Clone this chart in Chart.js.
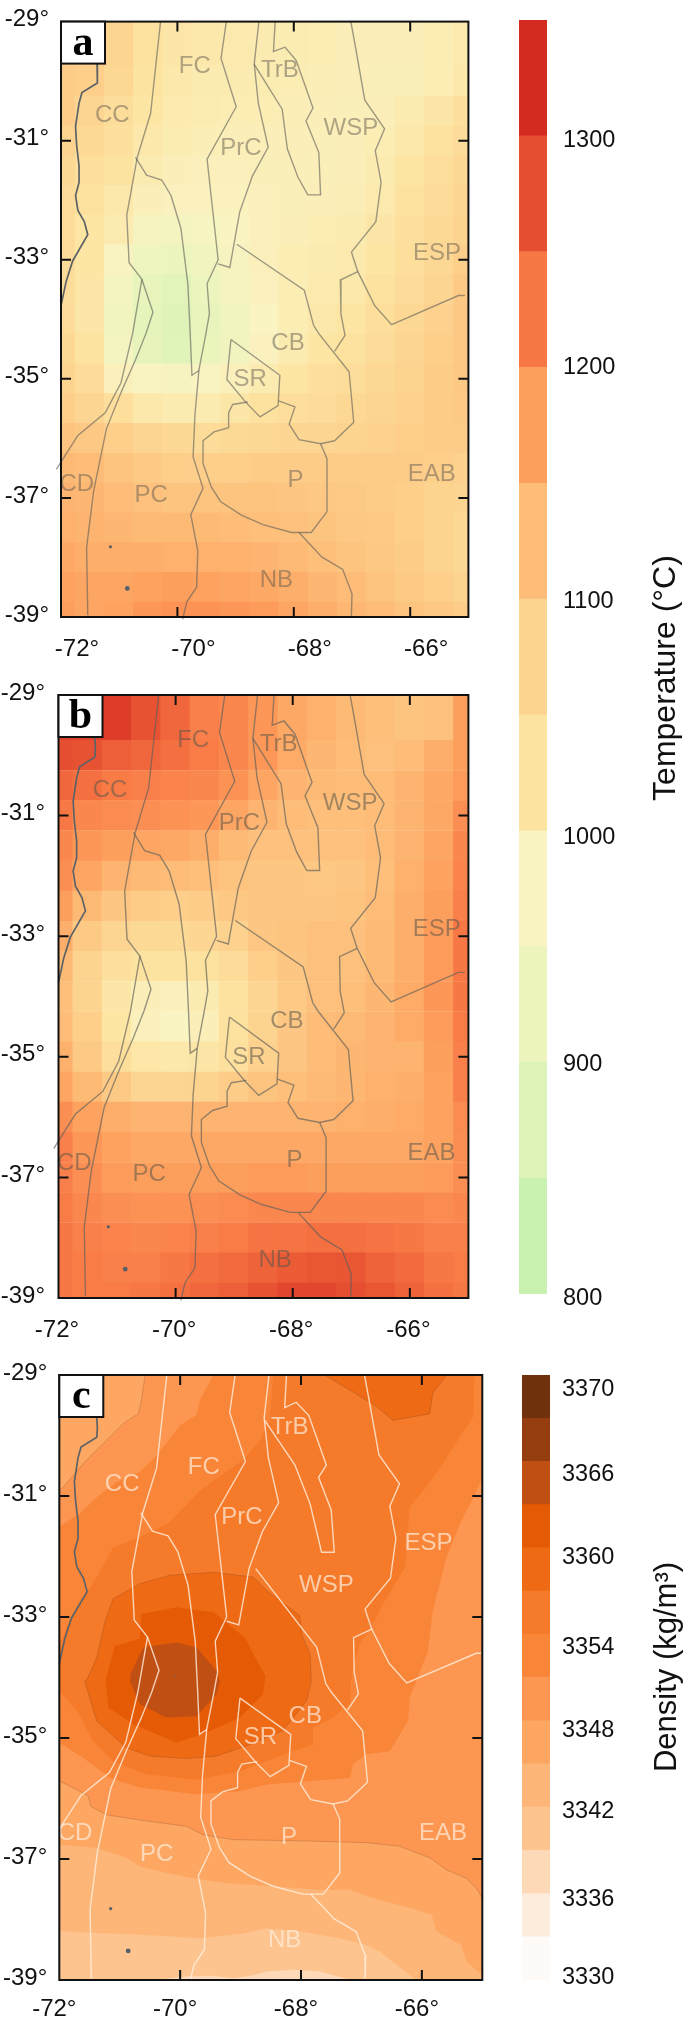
<!DOCTYPE html>
<html>
<head>
<meta charset="utf-8">
<script src="https://cdn.jsdelivr.net/npm/chart.js@4"></script>
<style>
  html, body { margin: 0; background: #fff; }
  body { position: relative; width: 685px; height: 2017px; overflow: hidden; }
  .box { position: absolute; }
</style>
</head>
<body>
<div class="box" style="left:0;top:0;width:490px;height:670px"><canvas id="mapA"></canvas></div>
<div class="box" style="left:0;top:660px;width:490px;height:680px"><canvas id="mapB"></canvas></div>
<div class="box" style="left:0;top:1340px;width:490px;height:677px"><canvas id="mapC"></canvas></div>
<div class="box" style="left:519px;top:0;width:166px;height:1320px"><canvas id="barTemp"></canvas></div>
<div class="box" style="left:522px;top:1340px;width:163px;height:677px"><canvas id="barDens"></canvas></div>
<script>
/* ── heat grids (°C), rows north to south, columns west to east ── */
const heatLons = [-72,-71.5,-71,-70.5,-70,-69.5,-69,-68.5,-68,-67.5,-67,-66.5,-66,-65.5,-65];
const heatLats = [-29,-29.5,-30,-30.5,-31,-31.5,-32,-32.5,-33,-33.5,-34,-34.5,-35,-35.5,-36,-36.5,-37,-37.5,-38,-38.5,-39];

const tempA = [
  [1085,1085,1070,1030,1015,1010,1005,1000,998,995,990,990,990,995,1005],
  [1085,1085,1070,1030,1015,1010,1005,1000,998,995,990,990,990,995,1005],
  [1090,1085,1060,1025,1010,1000,1000,998,995,992,990,988,988,995,1010],
  [1090,1070,1045,1020,1003,998,995,995,993,990,988,990,1000,1015,1035],
  [1075,1055,1035,1010,998,992,990,990,990,988,990,995,1010,1030,1050],
  [1060,1040,1025,1000,990,985,985,988,988,988,990,1000,1020,1040,1060],
  [1050,1030,1010,990,980,980,982,985,988,990,993,1005,1030,1050,1070],
  [1050,1020,1000,965,950,960,975,985,990,995,1000,1015,1035,1055,1075],
  [1050,1020,970,930,920,940,965,985,995,1000,1005,1020,1040,1060,1085],
  [1045,1015,950,905,890,920,955,980,995,1005,1010,1030,1050,1070,1095],
  [1050,1015,945,895,878,905,945,975,995,1010,1020,1040,1060,1080,1100],
  [1060,1025,950,900,880,915,945,980,1000,1020,1030,1050,1070,1085,1100],
  [1075,1050,985,970,965,970,985,1000,1020,1035,1045,1060,1075,1090,1100],
  [1085,1070,1040,1010,1000,1000,1015,1030,1040,1050,1060,1070,1080,1090,1095],
  [1110,1100,1085,1070,1060,1050,1055,1060,1065,1070,1075,1080,1085,1090,1090],
  [1130,1125,1110,1095,1085,1085,1085,1090,1090,1090,1090,1090,1090,1085,1080],
  [1140,1135,1125,1115,1110,1110,1110,1110,1105,1100,1095,1090,1085,1075,1070],
  [1145,1140,1135,1130,1130,1130,1125,1120,1115,1110,1100,1095,1085,1075,1060],
  [1160,1150,1150,1150,1145,1145,1145,1140,1130,1120,1110,1100,1090,1075,1060],
  [1170,1165,1165,1170,1175,1170,1165,1160,1150,1135,1125,1110,1095,1085,1075],
  [1175,1165,1170,1185,1190,1190,1185,1180,1165,1150,1135,1125,1110,1100,1090]
];

const tempB = [
  [1290,1290,1298,1270,1245,1215,1205,1185,1160,1145,1130,1120,1110,1115,1175],
  [1290,1290,1298,1270,1245,1215,1205,1185,1160,1145,1130,1120,1110,1115,1175],
  [1275,1270,1255,1245,1235,1220,1205,1185,1155,1135,1125,1115,1125,1150,1175],
  [1245,1235,1220,1215,1210,1205,1190,1165,1140,1130,1125,1125,1140,1160,1180],
  [1225,1205,1200,1195,1190,1185,1165,1140,1125,1120,1120,1125,1140,1160,1195],
  [1205,1185,1175,1165,1160,1150,1130,1115,1115,1115,1115,1125,1140,1165,1205],
  [1195,1165,1140,1130,1125,1120,1110,1105,1105,1100,1105,1120,1145,1170,1210],
  [1175,1130,1105,1090,1085,1090,1100,1105,1105,1105,1110,1125,1150,1175,1215],
  [1150,1095,1070,1055,1055,1065,1080,1105,1110,1115,1115,1130,1150,1180,1225],
  [1130,1075,1035,1025,1025,1030,1050,1085,1105,1115,1115,1130,1150,1180,1225],
  [1120,1075,1015,990,985,1000,1030,1065,1095,1115,1120,1135,1155,1185,1225],
  [1125,1085,1020,985,975,990,1030,1075,1105,1125,1130,1140,1155,1180,1220],
  [1145,1095,1040,1012,1010,1015,1035,1080,1105,1125,1135,1140,1140,1175,1215],
  [1165,1130,1095,1070,1070,1075,1090,1110,1120,1130,1135,1145,1150,1170,1215],
  [1195,1170,1150,1140,1140,1140,1140,1140,1140,1140,1145,1150,1155,1170,1200],
  [1215,1185,1170,1160,1160,1160,1160,1160,1160,1160,1160,1160,1160,1170,1195],
  [1215,1195,1180,1175,1175,1175,1175,1180,1180,1175,1175,1175,1175,1180,1195],
  [1220,1205,1195,1190,1190,1195,1200,1205,1205,1205,1205,1205,1205,1200,1205],
  [1225,1215,1210,1205,1210,1215,1220,1230,1230,1235,1235,1230,1225,1215,1215],
  [1225,1220,1215,1215,1225,1235,1240,1250,1260,1265,1265,1250,1240,1225,1220],
  [1225,1220,1220,1225,1235,1245,1255,1270,1285,1285,1275,1265,1250,1235,1225]
];

// colour at the middle of each colour-bar level, temperature panels blend between them
const heatStops  = [825,875,925,975,1025,1075,1125,1175,1225,1275,1325];
const heatColors = ['#c9f1b0','#def3b8','#edf5bd','#faf3c2','#fde3a0','#fdd390','#fdbd78','#fd9f5c','#f87845','#e54e30','#d52a20'];

/* ── colour bars ── */
const tempEdges  = [800,850,900,950,1000,1050,1100,1150,1200,1250,1300];
const tempStep   = 50;
const tempLabels = ['800','900','1000','1100','1200','1300'];
const tempLabelAt = [798,899,997,1099,1200,1298];

const densEdges  = [3330,3333,3336,3339,3342,3345,3348,3351,3354,3357,3360,3363,3366,3369];
const densStep   = 3;
const densColors = ['#fefaf7','#fdebdc','#fdd9b8','#fdc48f','#fdb678','#fda762','#fd9650','#f98638','#f57a2a','#ee6a15','#e55a05','#c04f14','#963d10','#70320c'];
const densLabels = ['3330','3336','3342','3348','3354','3360','3366','3370'];
const densLabelAt = [3330.2,3335.6,3341.7,3347.3,3353.1,3359.3,3365.1,3371];

/* ── density bands of panel c, [lon, lat] ── */
const band3339 = [[-72,-29],[-65,-29],[-65,-39],[-67.17,-39],[-67.69,-38.86],[-68.13,-38.83],[-68.57,-38.86],[-68.79,-38.92],[-69.12,-38.97],[-69.45,-38.93],[-69.89,-38.94],[-70.39,-39],[-72,-39]];
const band3342 = [[-72,-38.19],[-71.66,-38.21],[-71.16,-38.23],[-70.34,-38.27],[-69.67,-38.31],[-69.01,-38.24],[-68.57,-38.15],[-68.02,-38.2],[-67.36,-38.31],[-66.92,-38.42],[-66.7,-38.53],[-66.42,-38.75],[-66.09,-39],[-65,-39],[-65,-29],[-72,-29]];
const band3345 = [[-72,-36.76],[-71.38,-36.82],[-70.89,-36.98],[-70.67,-37.12],[-70.23,-37.23],[-69.78,-37.32],[-69.23,-37.4],[-68.46,-37.45],[-67.74,-37.51],[-67.19,-37.51],[-66.81,-37.65],[-66.2,-37.81],[-65.84,-37.92],[-65.76,-38.2],[-65.35,-38.42],[-65.26,-38.7],[-65,-38.92],[-65,-29],[-72,-29]];
const band3348 = [[-70.58,-29],[-70.64,-29.41],[-70.69,-29.64],[-70.94,-29.8],[-71.33,-30.19],[-71.6,-30.46],[-71.93,-30.85],[-72,-30.91],[-72,-35.71],[-71.66,-35.88],[-71.52,-35.96],[-71.48,-36.13],[-71.22,-36.27],[-70.5,-36.38],[-69.89,-36.46],[-69.62,-36.6],[-69.12,-36.68],[-68.02,-36.7],[-66.92,-36.73],[-66.37,-36.79],[-65.87,-36.98],[-65.59,-37.18],[-65.26,-37.32],[-65.1,-37.48],[-65,-37.65],[-65,-29]];
const band3351 = [[-69.45,-29],[-69.67,-29.41],[-69.73,-29.66],[-70,-29.83],[-70.39,-30.33],[-70.67,-30.6],[-71.05,-30.77],[-71.38,-31.02],[-71.66,-31.29],[-72,-31.51],[-72,-35.08],[-71.6,-35.33],[-71.16,-35.66],[-70.67,-35.82],[-69.73,-35.93],[-69.01,-35.88],[-68.57,-35.77],[-67.19,-35.66],[-67.14,-35.44],[-66.92,-35.27],[-66.53,-35.22],[-66.23,-34.72],[-66.2,-34.33],[-66.09,-34.06],[-65.9,-33.56],[-65.82,-32.9],[-65.59,-32.01],[-65.37,-31.46],[-65.15,-31.02],[-65,-30.71],[-65,-29]];
const band3354 = [[-68.46,-29],[-68.52,-29.75],[-68.68,-30.08],[-68.96,-30.41],[-69.4,-30.71],[-69.67,-30.91],[-70.17,-31.43],[-70.67,-31.68],[-71.11,-31.85],[-71.38,-32.34],[-71.77,-32.95],[-72,-33.45],[-72,-34.22],[-71.71,-34.55],[-71.44,-35.05],[-71.11,-35.38],[-70.56,-35.6],[-69.73,-35.69],[-69.01,-35.55],[-68.57,-35.38],[-68.13,-35.22],[-67.8,-35.11],[-67.8,-34.83],[-67.47,-34.66],[-67.19,-34.44],[-67.17,-34.06],[-67.14,-33.83],[-67.03,-33.45],[-66.75,-33.01],[-66.64,-32.78],[-66.28,-32.18],[-66.2,-31.18],[-65.93,-30.85],[-65.65,-30.46],[-65.37,-30.02],[-65.15,-29.69],[-65.13,-29]];
const band3357 = [[-71.54,-34.03],[-71.38,-33.67],[-71.24,-33.06],[-71.11,-32.7],[-70.67,-32.45],[-70.17,-32.31],[-69.45,-32.26],[-68.79,-32.34],[-68.57,-32.56],[-68.02,-32.98],[-67.99,-33.28],[-67.85,-33.61],[-67.83,-34.06],[-67.91,-34.39],[-68.3,-34.88],[-68.9,-35.13],[-69.4,-35.3],[-69.89,-35.34],[-70.5,-35.3],[-70.89,-35.16],[-71.38,-34.72],[-71.58,-34.06]];
const band3357ne = [[-67.61,-29],[-67.14,-29.28],[-66.75,-29.52],[-66.48,-29.75],[-65.87,-29.64],[-65.82,-29.3],[-65.59,-29]];
const band3360 = [[-71.23,-34.03],[-71.08,-33.48],[-70.67,-33.36],[-70.64,-32.95],[-70.06,-32.84],[-69.45,-32.92],[-68.93,-33.34],[-68.76,-33.67],[-68.59,-33.97],[-68.63,-34.28],[-69.01,-34.66],[-69.56,-34.91],[-70.06,-35.08],[-70.78,-34.77],[-71.19,-34.5]];
const band3363 = [[-70.82,-33.94],[-70.61,-33.5],[-70.06,-33.42],[-69.73,-33.5],[-69.4,-33.89],[-69.34,-34.06],[-69.4,-34.28],[-69.73,-34.64],[-70.23,-34.66],[-70.67,-34.44],[-70.83,-34.06]];

const bandsC     = [band3339, band3342, band3345, band3348, band3351, band3354, band3357, band3357ne, band3360, band3363];
const bandLevel  = [3339, 3342, 3345, 3348, 3351, 3354, 3357, 3357, 3360, 3363];
const bandHasEdge = [false, false, false, true, false, false, true, true, false, false];

/* ── province boundaries, [lon, lat] ── */
const coast = [[-71.38,-29.71],[-71.37,-29.87],[-71.38,-30.03],[-71.64,-30.19],[-71.69,-30.37],[-71.75,-30.76],[-71.73,-31.09],[-71.69,-31.42],[-71.69,-31.7],[-71.75,-31.92],[-71.71,-32.17],[-71.6,-32.36],[-71.54,-32.58],[-71.8,-33.02],[-71.91,-33.36],[-72,-33.77]];
const lineA = [[-70.29,-29],[-70.46,-30.54],[-70.69,-31.28],[-70.87,-32.25],[-70.83,-33.05],[-70.61,-33.33],[-70.42,-33.88],[-70.54,-34.24],[-70.72,-34.68],[-70.96,-35.21],[-71.22,-35.84],[-71.44,-36.89],[-71.56,-37.83],[-71.54,-38.97]];
const lineB = [[-70.61,-33.33],[-70.77,-34.24],[-70.97,-35.07],[-71.24,-35.57],[-71.71,-35.95],[-72.08,-36.52]];
const lineC = [[-70.72,-31.28],[-70.53,-31.58],[-70.27,-31.66],[-70.11,-31.92],[-69.94,-32.47],[-69.82,-33.41],[-69.78,-34.24],[-69.75,-34.94],[-69.63,-34.86]];
const lineD = [[-69.16,-29],[-69.25,-29.62],[-68.99,-30.43],[-69.49,-31.31],[-69.3,-33],[-69.49,-33.4],[-69.45,-33.91],[-69.51,-34.24],[-69.63,-34.85],[-69.7,-35.62],[-69.73,-36.31],[-69.56,-36.84],[-69.77,-37.28],[-69.65,-37.89],[-69.67,-38.5],[-69.84,-38.75],[-69.91,-39.04]];
const lineE = [[-68.6,-29],[-68.68,-29.71],[-68.61,-30.37],[-68.44,-31.11],[-68.71,-31.59],[-68.93,-32.2],[-69.1,-33.13],[-69.3,-33.07]];
const lineF = [[-68.32,-29],[-68.35,-29.5],[-68.15,-29.43],[-67.96,-29.65],[-67.67,-30.45],[-67.79,-30.67],[-67.57,-31.2],[-67.54,-31.91],[-67.76,-31.91],[-67.93,-31.61],[-68.11,-31.14],[-68.2,-30.47],[-68.68,-29.72]];
const lineFc = [[-68.31,-29],[-68.34,-29.54],[-68.15,-29.45],[-67.94,-29.67],[-67.65,-30.49],[-67.78,-30.69],[-67.57,-31.23],[-67.52,-31.93],[-67.73,-31.93],[-67.92,-31.13],[-68.17,-30.49],[-68.67,-29.75]];
const lineG = [[-67.02,-29],[-66.94,-29.43],[-66.78,-30.32],[-66.44,-30.8],[-66.6,-31.17],[-66.5,-31.7],[-66.59,-32.36],[-67.01,-32.87],[-66.9,-33.2],[-66.61,-33.77],[-66.32,-34.09],[-65.17,-33.6],[-65.06,-33.6]];
const lineH = [[-66.9,-33.2],[-67.2,-33.34],[-67.19,-33.91],[-67.12,-34.27],[-67.3,-34.54]];
const lineI = [[-68.98,-32.74],[-67.82,-33.51],[-67.66,-34.1],[-67.57,-34.24],[-67.05,-34.88],[-66.97,-35.73],[-67.3,-36.04],[-67.54,-36.09],[-67.91,-36.02],[-68.08,-35.76],[-67.98,-35.47],[-68.26,-35.37]];
const lineIc = [[-68.82,-32.2],[-67.81,-33.5],[-67.66,-34.1],[-67.57,-34.24],[-67.05,-34.88],[-66.97,-35.73],[-67.3,-36.04],[-67.54,-36.09],[-67.91,-36.02],[-68.08,-35.76],[-67.98,-35.47],[-68.26,-35.37]];
const lineSR = [[-69.08,-34.34],[-68.24,-34.94],[-68.27,-35.45],[-68.58,-35.64],[-68.82,-35.4],[-69.15,-35.01],[-69.08,-34.34]];
const lineP = [[-68.79,-35.39],[-69.05,-35.43],[-69.12,-35.57],[-69.12,-35.82],[-69.37,-35.89],[-69.56,-36.04],[-69.56,-36.42],[-69.42,-36.81],[-69.26,-37.06],[-68.9,-37.29],[-68.53,-37.45],[-68.04,-37.58],[-67.7,-37.58],[-67.43,-37.23],[-67.43,-36.34],[-67.54,-36.09]];
const lineNB = [[-67.91,-37.58],[-67.52,-37.99],[-67.16,-38.2],[-67,-38.61],[-67.01,-38.98]];

const linesAB = [lineA, lineB, lineC, lineD, lineE, lineF, lineG, lineH, lineI, lineSR, lineP, lineNB];
const linesC  = [lineA, lineB, lineC, lineD, lineE, lineFc, lineG, lineH, lineIc, lineSR, lineP, lineNB];
const lonShiftC = 0.07;   // boundaries sit a bit further east in the density panel

/* ── province names ── */
const names   = ['FC','CC','TrB','WSP','PrC','ESP','CB','SR','P','CD','PC','EAB','NB'];
const nameLonAB = [-69.7,-71.12,-68.24,-67.02,-68.91,-65.54,-68.1,-68.75,-67.97,-71.73,-70.45,-65.63,-68.3];
const nameLatAB = [-29.76,-30.58,-29.82,-30.8,-31.13,-32.89,-34.41,-35.01,-36.71,-36.77,-36.95,-36.6,-38.38];
const nameLonC  = [-69.61,-70.96,-68.19,-67.58,-68.98,-65.89,-67.93,-68.67,-68.2,-71.74,-70.39,-65.65,-68.27];
const nameLatC  = [-30.53,-30.81,-29.87,-32.47,-31.36,-31.78,-34.65,-34.99,-36.65,-36.58,-36.92,-36.58,-38.34];

const dotLon = [-71.15,-70.86];
const dotLat = [-37.82,-38.52];
const dotR   = [1.6,2.4];

/* ── helpers ── */
const FONT = "'Liberation Sans',Arial,sans-serif";
const INK = '#111';

function hexRgb(h) { return [1,3,5].map(i => parseInt(h.slice(i,i+2),16)); }

function heatColor(v) {
  if (v <= heatStops[0]) return heatColors[0];
  for (let i = 0; i < heatStops.length - 1; i++) {
    if (v <= heatStops[i+1]) {
      const t = (v - heatStops[i]) / (heatStops[i+1] - heatStops[i]);
      const a = hexRgb(heatColors[i]), b = hexRgb(heatColors[i+1]);
      return 'rgb(' + a.map((c,k) => Math.round(c + (b[k]-c)*t)).join(',') + ')';
    }
  }
  return heatColors[heatColors.length-1];
}

function xy(pts, shift = 0) { return pts.map(p => ({ x: p[0] + shift, y: p[1] })); }

function lineSet(pts, color, width, shift) {
  return { type: 'scatter', data: xy(pts, shift), showLine: true, borderColor: color, borderWidth: width,
           pointRadius: 0, tension: 0, fill: false, clip: 6, order: 1 };
}

function heatSet(rows) {
  const data = [];
  rows.forEach((row, r) => row.forEach((v, c) => data.push({ x: heatLons[c], y: heatLats[r], v })));
  return { type: 'scatter', data, showLine: false, pointStyle: 'rect', pointRadius: 21.6, pointBorderWidth: 0,
           pointBackgroundColor: ctx => heatColor(ctx.raw.v), order: 3 };
}

function bandSets() {
  return bandsC.map((poly, i) => {
    const closed = poly.concat([poly[0]]);
    const ds = lineSet(closed, bandHasEdge[i] ? 'rgba(80,55,40,.35)' : 'transparent', .6);
    ds.clip = 0;
    ds.order = 2;
    ds.bandFill = densColors[densEdges.indexOf(bandLevel[i])];
    return ds;
  });
}

// fills closed polygons from the points the scales have already placed
const bandFill = {
  id: 'bandFill',
  beforeDatasetsDraw(chart, _args, opts) {
    if (!opts.base) return;
    const { ctx, chartArea: a, data: { datasets } } = chart;
    ctx.save();
    ctx.beginPath(); ctx.rect(a.left, a.top, a.right-a.left, a.bottom-a.top); ctx.clip();
    ctx.fillStyle = opts.base;
    ctx.fillRect(a.left, a.top, a.right-a.left, a.bottom-a.top);
    datasets.forEach((ds, i) => {
      if (!ds.bandFill) return;
      const pts = chart.getDatasetMeta(i).data;
      ctx.beginPath();
      pts.forEach((p, k) => k ? ctx.lineTo(p.x, p.y) : ctx.moveTo(p.x, p.y));
      ctx.closePath();
      ctx.fillStyle = ds.bandFill;
      ctx.fill();
    });
    ctx.restore();
  }
};

// frame, inward ticks, province names and the letter box
const mapDecor = {
  id: 'mapDecor',
  afterDatasetsDraw(chart, _args, opts) {
    const { ctx, chartArea: a, scales: { x, y } } = chart;
    ctx.save();
    ctx.font = '24px ' + FONT;
    ctx.fillStyle = opts.nameColor;
    ctx.textAlign = 'center'; ctx.textBaseline = 'middle';
    names.forEach((n, i) => ctx.fillText(n, x.getPixelForValue(opts.nameLon[i]), y.getPixelForValue(opts.nameLat[i])));

    ctx.strokeStyle = '#111'; ctx.lineWidth = 2;
    ctx.beginPath();
    [-70,-68,-66].forEach(v => {
      const px = x.getPixelForValue(v);
      ctx.moveTo(px, a.top); ctx.lineTo(px, a.top + 10);
      ctx.moveTo(px, a.bottom); ctx.lineTo(px, a.bottom - 10);
    });
    [-31,-33,-35,-37].forEach(v => {
      const py = y.getPixelForValue(v);
      ctx.moveTo(a.left, py); ctx.lineTo(a.left + 10, py);
      ctx.moveTo(a.right, py); ctx.lineTo(a.right - 10, py);
    });
    ctx.stroke();
    ctx.strokeRect(a.left, a.top, a.right-a.left, a.bottom-a.top);

    ctx.fillStyle = '#fff';
    ctx.fillRect(a.left, a.top, 44, 42);
    ctx.strokeRect(a.left, a.top, 44, 42);
    ctx.fillStyle = '#000';
    ctx.font = "bold 42px 'Liberation Serif',serif";
    ctx.textBaseline = 'alphabetic';
    ctx.fillText(opts.letter, a.left + 22, a.top + 33);
    ctx.restore();
  }
};

function makeMap(id, cfg) {
  const datasets = [];
  cfg.lines.forEach(l => datasets.push(lineSet(l, cfg.lineColor, 1.4, cfg.shift)));
  datasets.push(lineSet(coast, cfg.coastColor, 1.7, 0));
  datasets.push({ type: 'scatter', data: xy(cfg.dots.map((v,i) => [v, cfg.dotsLat[i]])), showLine: false, order: 0,
                  pointRadius: cfg.dotsR, pointBackgroundColor: '#56606a', pointBorderWidth: 0 });
  if (cfg.temps) datasets.push(heatSet(cfg.temps));
  if (cfg.bands) bandSets().forEach(b => datasets.push(b));

  new Chart(document.getElementById(id), {
    type: 'scatter',
    data: { datasets },
    plugins: [bandFill, mapDecor],
    options: {
      responsive: true, maintainAspectRatio: false, animation: false, events: [],
      layout: { padding: { left: 0, right: 490 - cfg.right, top: cfg.top, bottom: 0 } },
      plugins: {
        legend: { display: false }, tooltip: { enabled: false },
        bandFill: { base: cfg.bands ? densColors[2] : null },
        mapDecor: { nameColor: cfg.nameColor, nameLon: cfg.nameLon, nameLat: cfg.nameLat, letter: cfg.letter }
      },
      scales: {
        x: {
          type: 'linear', min: -72, max: -65,
          grid: { display: false, drawTicks: false }, border: { display: false },
          ticks: { stepSize: 2, includeBounds: false, autoSkip: false, maxRotation: 0, labelOffset: cfg.xOff, padding: cfg.xPad,
                   color: INK, font: { size: 24, family: FONT }, callback: v => v + '°' },
          afterFit: s => { s.height = cfg.axisH; s.paddingLeft = 0; s.paddingRight = 0; }
        },
        y: {
          type: 'linear', min: -39, max: -29,
          grid: { display: false, drawTicks: false }, border: { display: false },
          ticks: { stepSize: 2, autoSkip: false, labelOffset: -2, padding: cfg.yPad,
                   color: INK, font: { size: 24, family: FONT }, callback: v => v + '°' },
          afterFit: s => { s.width = cfg.left; s.paddingTop = 0; s.paddingBottom = 0; }
        }
      }
    }
  });
}

makeMap('mapA', { temps: tempA, lines: linesAB, lineColor: 'rgba(95,95,90,.6)', coastColor: '#5d6266', shift: 0,
  dots: dotLon, dotsLat: dotLat, dotsR: dotR, nameColor: 'rgba(95,90,80,.5)', nameLon: nameLonAB, nameLat: nameLatAB,
  letter: 'a', left: 61, right: 484, top: 14, axisH: 53, xOff: 16, xPad: 18, yPad: 12 });

makeMap('mapB', { temps: tempB, lines: linesAB, lineColor: 'rgba(95,95,90,.65)', coastColor: '#5d6266', shift: 0,
  dots: dotLon, dotsLat: dotLat, dotsR: dotR, nameColor: 'rgba(90,85,75,.55)', nameLon: nameLonAB, nameLat: nameLatAB,
  letter: 'b', left: 58.5, right: 481.5, top: 35, axisH: 42, xOff: -1.5, xPad: 18, yPad: 13.5 });

makeMap('mapC', { bands: true, lines: linesC, lineColor: 'rgba(255,240,225,.8)', coastColor: '#5d6266', shift: lonShiftC,
  dots: dotLon.concat([-70.09]), dotsLat: dotLat.concat([-33.97]), dotsR: dotR.concat([.8]), nameColor: 'rgba(255,236,218,.72)', nameLon: nameLonC, nameLat: nameLatC,
  letter: 'c', left: 59.3, right: 482.3, top: 35, axisH: 37, xOff: -5, xPad: 15, yPad: 12 });

// rotated caption next to a colour bar
const barTitle = {
  id: 'barTitle',
  afterDraw(chart, _args, opts) {
    const { ctx } = chart;
    ctx.save();
    ctx.translate(opts.x, opts.y);
    ctx.rotate(-Math.PI / 2);
    ctx.font = opts.size + 'px ' + FONT;
    ctx.fillStyle = INK;
    ctx.textAlign = 'center'; ctx.textBaseline = 'middle';
    ctx.fillText(opts.text, 0, 0);
    ctx.restore();
  }
};

function makeBar(id, cfg) {
  new Chart(document.getElementById(id), {
    type: 'bar',
    data: {
      labels: [''],
      // floating bars, the axis does not start at zero
      datasets: cfg.edges.map((e, i) => ({ data: [[e, e + cfg.step]], backgroundColor: cfg.colors(e, i), borderWidth: 0,
                                           grouped: false, barPercentage: 1, categoryPercentage: 1 }))
    },
    plugins: [barTitle],
    options: {
      responsive: true, maintainAspectRatio: false, animation: false, events: [],
      layout: { padding: { top: cfg.top, bottom: cfg.bottom } },
      plugins: { legend: { display: false }, tooltip: { enabled: false }, barTitle: cfg.title },
      scales: {
        x: { display: false },
        y: {
          position: 'right', min: cfg.min, max: cfg.max,
          grid: { display: false, drawTicks: false }, border: { display: false },
          ticks: { autoSkip: false, padding: cfg.pad, color: INK, font: { size: 23.5, family: FONT }, callback: (v, i) => cfg.labels[i] },
          afterBuildTicks: s => { s.ticks = cfg.labelAt.map(value => ({ value })); },
          afterFit: s => { s.width = cfg.axisW; s.paddingTop = 0; s.paddingBottom = 0; }
        }
      }
    }
  });
}

makeBar('barTemp', { edges: tempEdges, step: tempStep, colors: e => heatColor(e + tempStep/2), labels: tempLabels, labelAt: tempLabelAt,
  min: 800, max: 1350, top: 20, bottom: 26, axisW: 138, pad: 16,
  title: { text: 'Temperature (°C)', x: 147, y: 678, size: 32 } });

makeBar('barDens', { edges: densEdges, step: densStep, colors: (e, i) => densColors[i], labels: densLabels, labelAt: densLabelAt,
  min: 3330, max: 3372, top: 35, bottom: 37, axisW: 135, pad: 12,
  title: { text: 'Density (kg/m³)', x: 145, y: 327, size: 31 } });
</script>
</body>
</html>
